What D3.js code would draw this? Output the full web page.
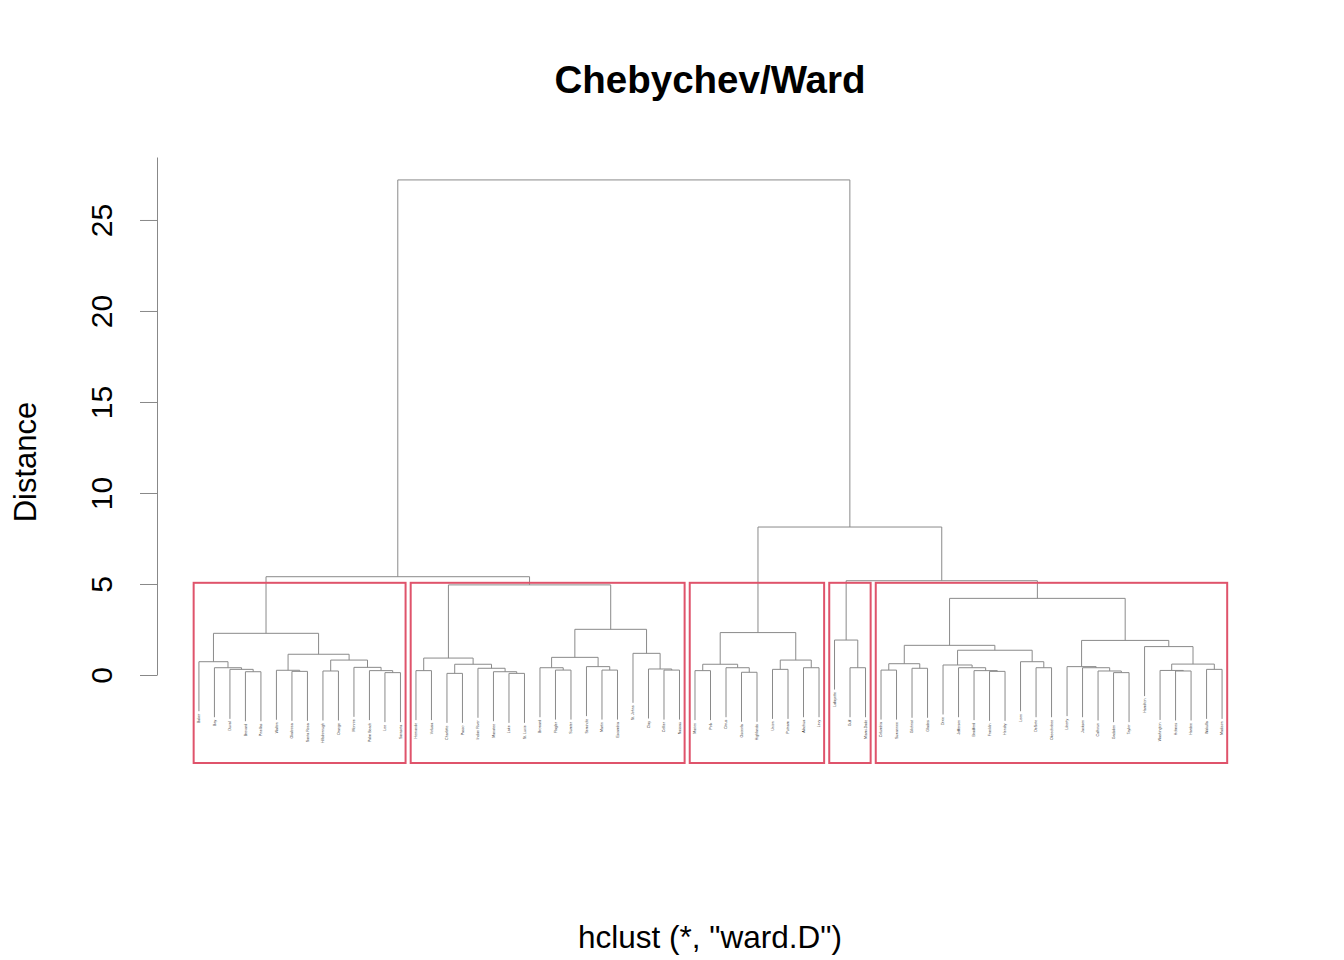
<!DOCTYPE html>
<html>
<head>
<meta charset="utf-8">
<script src="https://cdn.jsdelivr.net/npm/d3@7"></script>
<style>
  body { margin: 0; background: #fff; }
  text { font-family: "Liberation Sans", Arial, Helvetica, sans-serif; }
</style>
</head>
<body>
<script>
// Chebychev / Ward dendrogram (R hclust style)

// leaf labels, in the order they are drawn left -> right
const labels = [
  "Baker", "Bay", "Duval", "Brevard", "Pinellas", "Walton", "Okaloosa", "Santa Rosa",
  "Hillsborough", "Orange", "Monroe", "Palm Beach", "Lee", "Sarasota",
  "Hernando", "Volusia", "Charlotte", "Pasco", "Indian River", "Manatee", "Lake", "St. Lucie",
  "Broward", "Flagler", "Sumter", "Seminole", "Martin", "Escambia", "St. Johns", "Clay",
  "Collier", "Nassau",
  "Marion", "Polk", "Citrus", "Osceola", "Highlands", "Union", "Putnam", "Alachua", "Levy",
  "Lafayette", "Gulf", "Miami-Dade",
  "Columbia", "Suwannee", "Gilchrist", "Glades", "Dixie", "Jefferson", "Bradford", "Franklin",
  "Hendry", "Leon", "DeSoto", "Okeechobee", "Liberty", "Jackson", "Calhoun", "Gadsden",
  "Taylor", "Hamilton", "Washington", "Holmes", "Hardee", "Wakulla", "Madison"
];

// merges like R's hclust: negative = leaf number, positive = earlier merge number
const mergeLeft = [
  -13, -12, -11, -9, 4, -7, -6, 7, -4, -3, -2, -1, 12,
  -21, -20, -19, -17, 17, -15, 19, -24, -23, -27, -26, 22, -31, -30, -29, 25, 20, 13,
  -33, -36, -35, 32, -38, -40, 36, 35,
  -43, -42,
  -45, -47, 42, -52, -51, -50, -49, -55, -54, 48, 44, -60, -59, -58, -57, -64, -63, -66, 58, -62, 56, 52,
  41, 39, 31
];
const mergeRight = [
  -14, 1, 2, -10, 3, -8, 6, 5, -5, 9, 10, 11, 8,
  -22, 14, 15, -18, 16, -16, 18, -25, 21, -28, 23, 24, -32, 26, 27, 28, 29, 30,
  -34, -37, 33, 34, -39, -41, 37, 38,
  -44, 40,
  -46, -48, 43, -53, 45, 46, 47, -56, 49, 50, 51, -61, 53, 54, 55, -65, 57, -67, 59, 60, 61, 62,
  63, 64, 65
];
const mergeHeight = [
  0.13, 0.24, 0.42, 0.22, 0.82, 0.20, 0.26, 1.14, 0.18, 0.31, 0.40, 0.73, 2.29,
  0.09, 0.18, 0.37, 0.09, 0.59, 0.24, 0.93, 0.27, 0.40, 0.27, 0.46, 0.97, 0.27, 0.33, 1.19, 2.51, 4.95, 5.40,
  0.24, 0.15, 0.40, 0.59, 0.31, 0.40, 0.82, 2.33,
  0.40, 1.92,
  0.27, 0.37, 0.62, 0.20, 0.24, 0.40, 0.55, 0.40, 0.73, 1.36, 1.63, 0.13, 0.22, 0.40, 0.46, 0.22, 0.25, 0.31, 0.60, 1.56, 1.90, 4.21,
  5.18, 8.13, 27.2
];

const clusterSizes = [14, 18, 9, 3, 23];
const yTicks = [0, 5, 10, 15, 20, 25];

const w = 1344;
const h = 960;
const n = labels.length;
const plotTop = 157, plotBottom = 763;

const svg = d3.select("body")
  .append("svg")
  .attr("width", w)
  .attr("height", h);

// build the tree from the merge table
function build(i) {
  if (i < 0) return { leaf: -i, name: labels[-i - 1] };
  return { height: mergeHeight[i - 1], children: [build(mergeLeft[i - 1]), build(mergeRight[i - 1])] };
}
const root = d3.hierarchy(build(mergeHeight.length));

const maxH = d3.max(mergeHeight);
const hang = 0.1 * maxH;

const ext = 0.04 * (n - 1);
const x_scale = d3.scaleLinear()
  .domain([1 - ext, n + ext])
  .range([158, 1263]);

const y_scale = d3.scaleLinear()
  .domain([0, 28.46])
  .range([675, plotTop]);

// leaf positions, then parents at the midpoint of their children
root.leaves().forEach((d, i) => { d.x = x_scale(i + 1); });
root.eachAfter(d => {
  if (d.children) d.x = (d.children[0].x + d.children[1].x) / 2;
});

const lineColor = "#8a8a8a";
const g = svg.append("g");

root.descendants().filter(d => d.children).forEach(d => {
  const yTop = y_scale(d.data.height);
  g.append("line")
    .attr("x1", d.children[0].x).attr("x2", d.children[1].x)
    .attr("y1", yTop).attr("y2", yTop)
    .attr("stroke", lineColor).attr("stroke-width", 1);
  d.children.forEach(c => {
    const yc = c.children ? y_scale(c.data.height) : y_scale(d.data.height - hang);
    c.yEnd = yc;
    g.append("line")
      .attr("x1", c.x).attr("x2", c.x)
      .attr("y1", yTop).attr("y2", yc)
      .attr("stroke", lineColor).attr("stroke-width", 1);
  });
});

// leaf labels
g.selectAll(".leaf-label")
  .data(root.leaves())
  .enter()
  .append("text")
  .attr("class", "leaf-label")
  .attr("transform", d => `translate(${d.x},${d.yEnd + 2.5}) rotate(-90)`)
  .attr("text-anchor", "end")
  .attr("dy", "0.35em")
  .attr("font-size", "3.6px")
  .attr("fill", "#333")
  .text(d => d.data.name);

// cluster boxes (rect.hclust, k = 5)
const sortedH = mergeHeight.slice().sort((a, b) => b - a);
const k = clusterSizes.length;
const cutH = (sortedH[k - 2] + sortedH[k - 1]) / 2;
const cum = [0];
clusterSizes.forEach(s => cum.push(cum[cum.length - 1] + s));

svg.selectAll(".cluster-box")
  .data(clusterSizes)
  .enter()
  .append("rect")
  .attr("class", "cluster-box")
  .attr("x", (d, i) => x_scale(cum[i] + 0.66))
  .attr("width", (d, i) => x_scale(cum[i + 1] + 0.33) - x_scale(cum[i] + 0.66))
  .attr("y", y_scale(cutH))
  .attr("height", plotBottom - y_scale(cutH))
  .attr("fill", "none")
  .attr("stroke", "#DF536B")
  .attr("stroke-width", 2);

// y axis
const yAxis = svg.append("g")
  .attr("class", "y axis")
  .attr("transform", "translate(157,0)")
  .call(d3.axisLeft(y_scale).tickValues(yTicks).tickSize(17).tickSizeOuter(0).tickPadding(0));

yAxis.select(".domain").attr("stroke", "#888");
yAxis.selectAll(".tick line").attr("stroke", "#888");
yAxis.selectAll(".tick text")
  .attr("x", null).attr("dy", null)
  .attr("transform", "translate(-45,0) rotate(-90)")
  .attr("text-anchor", "middle")
  .attr("fill", "#000")
  .attr("font-size", "30px")
  .style("font-family", "Liberation Sans, Arial, sans-serif");

// titles
svg.append("text")
  .attr("x", 710)
  .attr("y", 93)
  .attr("text-anchor", "middle")
  .attr("font-size", "38.5px")
  .attr("font-weight", "bold")
  .text("Chebychev/Ward");

svg.append("text")
  .attr("transform", "translate(36,462) rotate(-90)")
  .attr("text-anchor", "middle")
  .attr("font-size", "31px")
  .text("Distance");

svg.append("text")
  .attr("x", 710)
  .attr("y", 948)
  .attr("text-anchor", "middle")
  .attr("font-size", "31.5px")
  .text("hclust (*, \"ward.D\")");
</script>
</body>
</html>
